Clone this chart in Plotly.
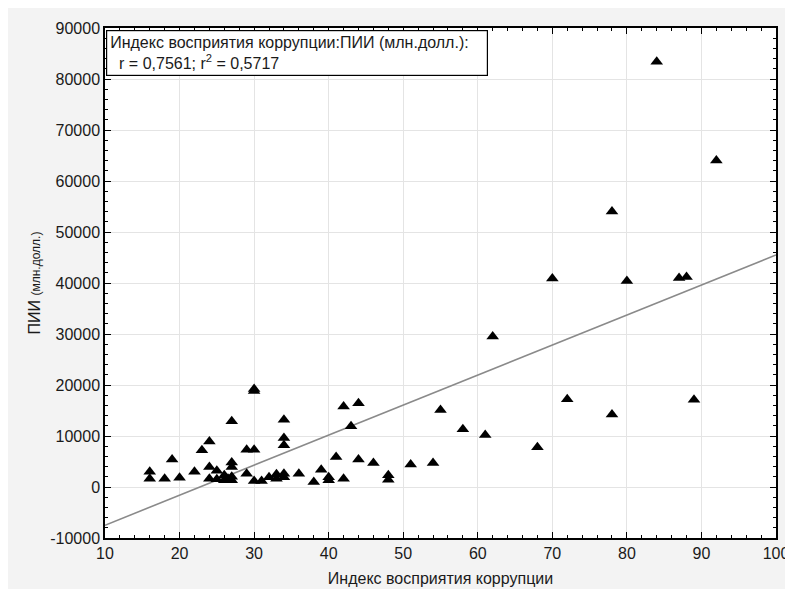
import plotly.graph_objects as go

# Corruption perception index (x) vs FDI, mln USD (y)
cpi = [16, 16, 18, 19, 20, 22, 23, 24, 24, 24, 25, 25, 26, 26, 26.5,
       27, 27, 27, 27, 27, 29, 29, 30, 30, 30, 30, 31, 32, 33, 33,
       34, 34, 34, 34, 34, 36, 38, 39, 40, 40, 41, 42, 42, 43, 44,
       44, 46, 48, 48, 51, 54, 55, 58, 61, 62, 68, 70, 72, 78, 78,
       80, 84, 87, 88, 89, 92]
fdi = [3000, 1600, 1600, 5400, 1800, 3000, 7200, 8900, 3900, 1600, 3200, 1500, 2300, 1300, 1600,
       12900, 4800, 3900, 2000, 1300, 7300, 2600, 19200, 18800, 7300, 1200, 1200, 1900, 2500, 1600,
       13200, 9600, 8200, 2600, 1900, 2600, 1000, 3400, 1900, 1300, 5900, 15800, 1600, 11900, 16400,
       5400, 4700, 2300, 1400, 4400, 4700, 15100, 11300, 10200, 29500, 7800, 40900, 17200, 54000, 14200,
       40400, 83400, 41000, 41200, 17100, 64000]

# Regression line end points
fit_x = [10, 100]
fit_y = [-7500, 45500]

x_ticks = [10, 20, 30, 40, 50, 60, 70, 80, 90, 100]
y_ticks = [-10000, 0, 10000, 20000, 30000, 40000, 50000, 60000, 70000, 80000, 90000]

FONT = "Liberation Sans, Arial, sans-serif"

fig = go.Figure()
fig.add_trace(go.Scatter(x=fit_x, y=fit_y, mode="lines",
                         line=dict(color="#8a8a8a", width=1.6), hoverinfo="skip"))
fig.add_trace(go.Scatter(x=cpi, y=fdi, mode="markers",
                         marker=dict(symbol="triangle-up", size=11, color="black",
                                     line=dict(width=0))))

axis_common = dict(showline=True, linecolor="black", linewidth=1.5, mirror="ticks",
                   ticks="inside", ticklen=6, tickcolor="black", tickwidth=1,
                   showgrid=True, gridcolor="#e4e4e4", gridwidth=1, zeroline=False,
                   tickfont=dict(family=FONT, size=16, color="#1a1a1a"))

fig.update_xaxes(range=[10, 100], tickvals=x_ticks, ticktext=[str(v) for v in x_ticks],
                 minor=dict(dtick=2, tick0=10, ticks="inside", ticklen=3, tickcolor="black",
                            showgrid=False),
                 title=dict(text="Индекс восприятия коррупции",
                            font=dict(family=FONT, size=16, color="#1a1a1a"), standoff=12),
                 **axis_common)
fig.update_yaxes(range=[-10000, 90000], tickvals=y_ticks, ticktext=[str(v) for v in y_ticks],
                 minor=dict(dtick=2000, tick0=0, ticks="inside", ticklen=3, tickcolor="black",
                            showgrid=False),
                 title=dict(text="ПИИ <span style='font-size:12px'>(млн.долл.)</span>",
                            font=dict(family=FONT, size=16, color="#1a1a1a"), standoff=6),
                 **axis_common)

fig.add_annotation(xref="paper", yref="paper", x=0.002, y=0.997, xanchor="left", yanchor="top",
                   showarrow=False, align="left", width=374, borderpad=3,
                   bordercolor="black", borderwidth=1.2, bgcolor="white",
                   text="Индекс восприятия коррупции:ПИИ (млн.долл.):<br>"
                        "  r = 0,7561; r<sup>2</sup> = 0,5717",
                   font=dict(family=FONT, size=16, color="#1a1a1a"))

fig.update_layout(width=793, height=589, showlegend=False,
                  margin=dict(l=97, r=15, t=19, b=58),
                  paper_bgcolor="#f3f3f3", plot_bgcolor="white")

fig.write_html("out.html")
